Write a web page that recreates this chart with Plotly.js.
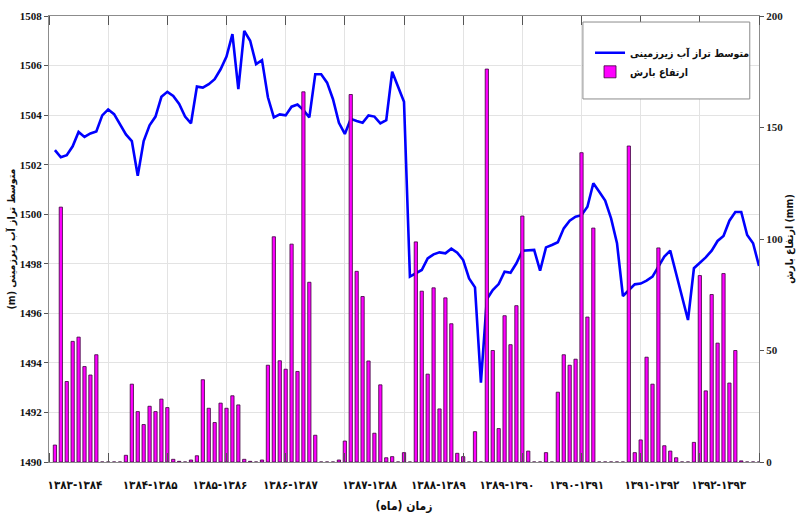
<!DOCTYPE html>
<html>
<head>
<meta charset="utf-8">
<script src="https://cdn.plot.ly/plotly-3.0.1.min.js"></script>
<style>html,body{margin:0;padding:0;background:#fff;}#chart{width:796px;height:517px;}</style>
</head>
<body>
<div id="chart"></div>
<script>
// Month index (10 water years, 1383-1393)
const months = Array.from({length: 120}, (_, i) => i + 1);

// Monthly rainfall depth (mm) - right axis
const rainfall = [
  7.6, 114.3, 36.1, 54.1, 56.0, 42.8, 39.0, 48.1, 0, 0, 0, 0,
  3.0, 34.9, 22.6, 16.8, 25.0, 22.6, 28.2, 24.4, 1.2, 0.3, 0, 0.9,
  2.8, 36.9, 24.1, 17.7, 26.4, 24.1, 29.7, 25.6, 1.2, 0.3, 0, 0.9,
  43.4, 101.0, 45.4, 41.6, 97.7, 40.6, 166.0, 80.6, 12.0, 0, 0, 0,
  0.9, 9.4, 164.8, 85.5, 74.2, 45.3, 12.9, 34.6, 1.9, 2.4, 0, 4.2,
  0, 98.7, 76.6, 39.4, 78.1, 23.8, 73.6, 62.0, 3.9, 2.4, 0, 13.6,
  0, 176.2, 50.0, 15.0, 65.6, 52.6, 70.1, 110.3, 4.9, 0, 0, 4.2,
  0, 31.3, 48.1, 43.4, 46.1, 138.7, 65.0, 104.9, 0, 0, 0, 0,
  0, 141.7, 4.2, 9.9, 47.0, 34.9, 96.0, 7.3, 4.9, 1.9, 0, 0,
  8.8, 83.6, 31.9, 75.1, 53.3, 84.5, 35.4, 50.0, 0.5, 0, 0, 0
];

// Mean groundwater level (m) - left axis
const gwLevel = [
  1502.59, 1502.30, 1502.38, 1502.74, 1503.32, 1503.12, 1503.26, 1503.34, 1503.99, 1504.23, 1504.04, 1503.64,
  1503.22, 1502.95, 1501.55, 1502.95, 1503.59, 1503.94, 1504.74, 1504.94, 1504.77, 1504.45, 1503.94, 1503.67,
  1505.15, 1505.11, 1505.25, 1505.45, 1505.85, 1506.36, 1507.27, 1505.05, 1507.40, 1507.00, 1506.06, 1506.22,
  1504.72, 1503.91, 1504.03, 1503.99, 1504.34, 1504.43, 1504.20, 1503.91, 1505.65, 1505.65, 1505.31, 1504.64,
  1503.69, 1503.24, 1503.85, 1503.76, 1503.69, 1503.99, 1503.94, 1503.67, 1503.80, 1505.75, 1505.15, 1504.54,
  1497.48, 1497.61, 1497.75, 1498.22, 1498.38, 1498.46, 1498.42, 1498.61, 1498.45, 1498.15, 1497.41, 1497.05,
  1493.20, 1496.57, 1496.94, 1497.18, 1497.68, 1497.64, 1498.02, 1498.53, 1498.53, 1498.56, 1497.72, 1498.66,
  1498.76, 1498.87, 1499.43, 1499.74, 1499.90, 1499.96, 1500.30, 1501.25, 1500.91, 1500.55, 1499.83, 1498.83,
  1496.70, 1496.94, 1497.17, 1497.20, 1497.32, 1497.48, 1497.88, 1498.29, 1498.53, 1497.60, 1496.66, 1495.73,
  1497.82, 1498.02, 1498.26, 1498.53, 1498.92, 1499.12, 1499.74, 1500.09, 1500.09, 1499.16, 1498.83, 1497.91
];

// Water-year tick labels and where they sit on the month axis
const yearLabels = [
  '۱۳۸۳-۱۳۸۴', '۱۳۸۴-۱۳۸۵', '۱۳۸۵-۱۳۸۶', '۱۳۸۶-۱۳۸۷', '۱۳۸۷-۱۳۸۸',
  '۱۳۸۸-۱۳۸۹', '۱۳۸۹-۱۳۹۰', '۱۳۹۰-۱۳۹۱', '۱۳۹۱-۱۳۹۲', '۱۳۹۲-۱۳۹۳'
];
const yearLabelPos = [4.4, 17.1, 28.9, 40.8, 54.2, 65.8, 77.4, 89.2, 101.9, 113.2];

const levelName = 'متوسط تراز آب زیرزمینی';
const rainName = 'ارتفاع بارش';

const faFont = 'DejaVu Sans Condensed, DejaVu Sans, sans-serif';
const numFont = 'Liberation Serif, Times New Roman, serif';

const traces = [
  {
    x: months, y: gwLevel, type: 'scatter', mode: 'lines', name: levelName,
    line: {color: '#0000ff', width: 2.6}, xaxis: 'x', yaxis: 'y'
  },
  {
    x: months, y: rainfall, type: 'bar', name: rainName,
    width: 0.55,
    marker: {color: '#ff00ff', line: {color: '#3a003a', width: 0.8}},
    xaxis: 'x', yaxis: 'y2'
  }
];

const layout = {
  width: 796, height: 517,
  margin: {l: 49, r: 37, t: 16, b: 55},
  paper_bgcolor: '#ffffff', plot_bgcolor: '#ffffff',
  showlegend: true,
  bargap: 0,
  xaxis: {
    range: [0, 120],
    tickmode: 'array', tickvals: yearLabelPos, ticktext: yearLabels,
    ticks: '', showgrid: false, zeroline: false,
    ticklabelstandoff: 12,
    tickfont: {family: faFont, size: 11.5, color: '#111', weight: 700},
    minor: {tickmode: 'linear', tick0: 0, dtick: 10, showgrid: true, gridcolor: '#e3e3e3', gridwidth: 1,
            ticks: 'inside', ticklen: 9, tickcolor: '#555', tickwidth: 1},
    showline: true, linecolor: '#8c8c8c', linewidth: 1, mirror: 'ticks',
    title: {text: 'زمان (ماه)', font: {family: faFont, size: 12, color: '#111', weight: 700}, standoff: 10}
  },
  yaxis: {
    range: [1490, 1508], tickmode: 'linear', tick0: 1490, dtick: 2,
    showgrid: true, gridcolor: '#e3e3e3', zeroline: false,
    ticks: 'outside', ticklen: 4, tickcolor: '#555',
    showline: true, linecolor: '#8c8c8c', linewidth: 1,
    tickfont: {family: numFont, size: 11, color: '#111', weight: 700},
    title: {text: '(m) ' + levelName, font: {family: faFont, size: 10.5, color: '#111', weight: 700}, standoff: 2}
  },
  yaxis2: {
    range: [0, 200], tickmode: 'linear', tick0: 0, dtick: 50,
    overlaying: 'y', side: 'right', showgrid: false,
    zeroline: true, zerolinecolor: '#f0a070', zerolinewidth: 1,
    ticks: 'outside', ticklen: 4, tickcolor: '#555',
    showline: true, linecolor: '#8c8c8c', linewidth: 1,
    tickfont: {family: numFont, size: 11, color: '#222', weight: 700},
    title: {text: rainName + ' (mm)', font: {family: faFont, size: 10.5, color: '#111', weight: 700}, standoff: 6}
  },
  shapes: [
    {type: 'rect', xref: 'paper', yref: 'paper', x0: 0.752, x1: 0.987, y0: 0.814, y1: 0.9865,
     fillcolor: '#ffffff', line: {color: '#8c8c8c', width: 1}, layer: 'above'}
  ],
  legend: {
    x: 0.762, xanchor: 'left', y: 0.95, yanchor: 'top',
    bgcolor: 'rgba(0,0,0,0)', borderwidth: 0,
    font: {family: faFont, size: 10.5, color: '#111', weight: 700},
    itemwidth: 30, tracegroupgap: 4
  }
};

Plotly.newPlot('chart', traces, layout, {displayModeBar: false, staticPlot: true});
</script>
</body>
</html>
